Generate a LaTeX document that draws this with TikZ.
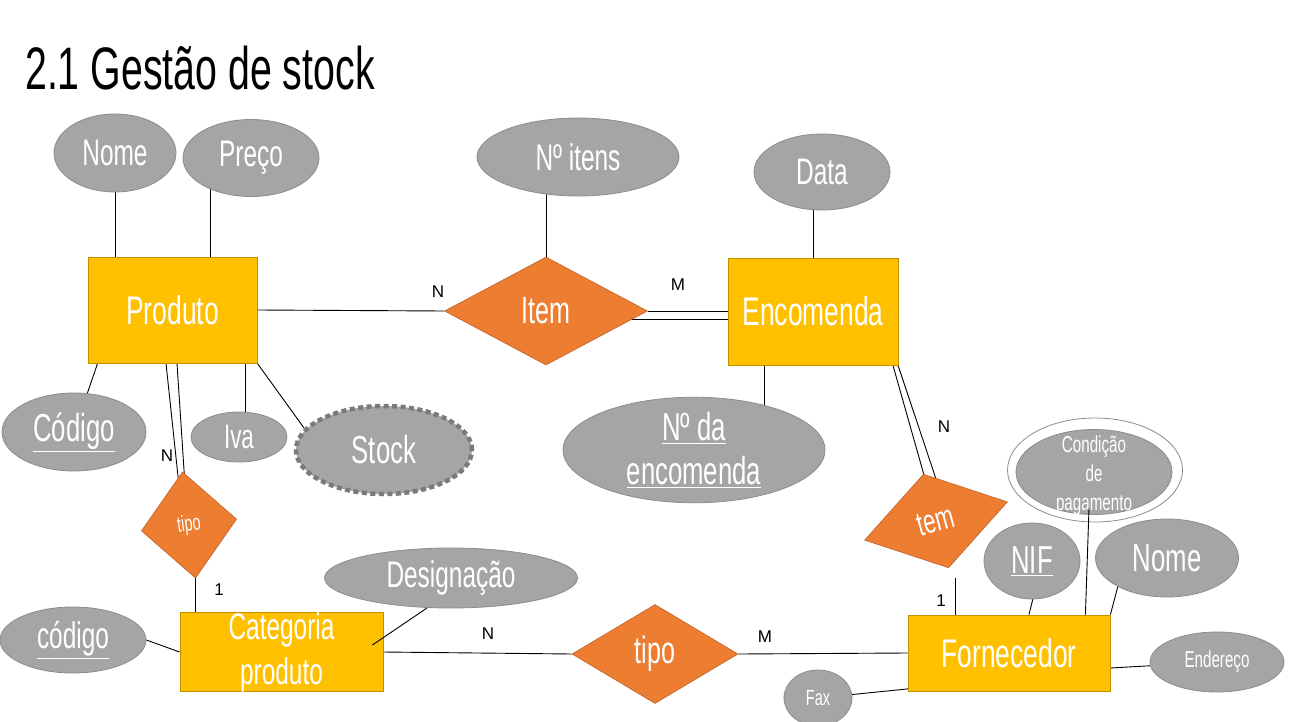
\documentclass[tikz,border=0pt]{standalone}
\usepackage{fontspec}
\usetikzlibrary{shapes.geometric,calc,backgrounds}
\newfontfamily\ag{Liberation Sans}[FakeStretch=0.66]
\newfontfamily\agt{Liberation Sans}[FakeStretch=0.655]
\newfontfamily\ar{Liberation Sans}
\newcommand\agfs[2]{\fontsize{#1}{#2}\selectfont}
\definecolor{ent}{HTML}{FFC000}
\definecolor{entb}{HTML}{C09000}
\definecolor{relc}{HTML}{ED7D31}
\definecolor{relb}{HTML}{C0622A}
\definecolor{att}{HTML}{A5A5A5}
\definecolor{attb}{HTML}{8C8C8C}
\definecolor{stk}{HTML}{7A7A7A}
\tikzset{
 entity/.style={rectangle, fill=ent, draw=entb, line width=0.8pt, inner sep=0pt, text=white},
 relship/.style={diamond, fill=relc, draw=relb, line width=0.6pt, inner sep=0pt, text=white},
 attr/.style={ellipse, fill=att, draw=attb, line width=0.8pt, inner sep=0pt, text=white},
 lbl/.style={font=\ar\agfs{17}{20}, inner sep=0pt, text=black},
 conn/.style={line width=0.9pt, draw=black},
}
\begin{document}
\begin{tikzpicture}[x=1pt,y=-1pt]
\useasboundingbox (0,0) rectangle (1292,722);
\begin{pgfonlayer}{background}
\fill[white] (0,0) rectangle (1292,722);
\end{pgfonlayer}

% title
\node[anchor=base west, inner sep=0pt, font=\agt\agfs{60}{60}] (title) at (25,90) {2.1 Gestão de stock};

% entities
\node[entity, minimum width=169pt, minimum height=106pt, font=\ag\agfs{40}{44}] (prod) at (172.5,310) {Produto};
\node[entity, minimum width=170pt, minimum height=107pt, font=\ag\agfs{40}{44}] (enc) at (813,311.5) {Encomenda};
\node[entity, minimum width=203pt, minimum height=76pt, align=center, font=\ag\agfs{37}{45}] (cat) at (281.5,652) {Categoria\\produto};
\node[entity, minimum width=202pt, minimum height=76pt, font=\ag\agfs{40}{44}] (forn) at (1009,653) {Fornecedor};

% relationships
\node[relship, minimum width=203pt, minimum height=108pt, font=\ag\agfs{38}{40}] (item) at (546,311) {Item};
\node[relship, minimum width=166pt, minimum height=99pt, font=\ag\agfs{38}{40}] (tipo2) at (655,654) {tipo};
\node[relship, minimum width=96pt, minimum height=107pt, rotate=7, font=\ag\agfs{22}{24}] (tipo1) at (189,525) {tipo};
\node[relship, minimum width=148pt, minimum height=97pt, rotate=15, font=\ag\agfs{34}{34}] (tem) at (936,521) {tem};

% attributes
\node[attr, minimum width=122pt, minimum height=78pt, font=\ag\agfs{37}{40}] (nome1) at (115,153) {Nome};
\node[attr, minimum width=136pt, minimum height=77pt, font=\ag\agfs{37}{40}] (preco) at (251,158) {Preço};
\node[attr, minimum width=202pt, minimum height=78pt, font=\ag\agfs{37}{40}] (nitens) at (578,157) {Nº itens};
\node[attr, minimum width=136pt, minimum height=76pt, font=\ag\agfs{37}{40}] (data) at (822,172) {Data};
\node[attr, minimum width=144pt, minimum height=78pt, font=\ag\agfs{39}{40}] (codigo) at (74,432) {\underline{Código}};
\node[attr, minimum width=96pt, minimum height=50pt, font=\ag\agfs{34}{36}] (iva) at (239,437) {Iva};
\node[attr, minimum width=176pt, minimum height=88pt, draw=stk, line width=4.5pt, dash pattern=on 5pt off 3.5pt, font=\ag\agfs{39}{40}] (stock) at (384,450) {Stock};
\node[attr, minimum width=262pt, minimum height=96pt, align=center, font=\ag\agfs{39}{44}] (nenc) at (694,450) {\underline{Nº da}\\\underline{encomenda}};
\node[ellipse, minimum width=175pt, minimum height=104pt, fill=white, draw=attb, line width=0.8pt, inner sep=0pt] (condo) at (1095,470) {};
\node[attr, minimum width=156pt, minimum height=85pt, align=center, font=\ag\agfs{23}{29}] (cond) at (1094,472) {};
\node[align=center, inner sep=0pt, text=white, font=\ag\agfs{23}{29}] (condt) at (1094,476) {Condição\\de\\pagamento};
\node[attr, minimum width=96pt, minimum height=76pt, font=\ag\agfs{39}{40}] (nif) at (1032,561) {\underline{NIF}};
\node[attr, minimum width=143pt, minimum height=78pt, font=\ag\agfs{39}{40}] (nome2) at (1167,558) {Nome};
\node[attr, minimum width=134pt, minimum height=60pt, font=\ag\agfs{23}{26}] (ender) at (1217,662) {Endereço};
\node[attr, minimum width=68pt, minimum height=56pt, font=\ag\agfs{22}{24}] (fax) at (818,698) {Fax};
\node[attr, minimum width=253pt, minimum height=60pt, font=\ag\agfs{37}{40}] (desig) at (451,578) {Designação};
\node[attr, minimum width=146pt, minimum height=66pt, font=\ag\agfs{37}{40}] (codigo2) at (73,640) {\underline{código}};

% coordinates for off-centre attachments
\coordinate (pa) at ($(preco.center)+(-41,0)$);
\coordinate (i2) at ($(item.center)+(0,8)$);
\coordinate (e1) at ($(enc.south)+(-49,0)$);
\coordinate (cs) at ($(prod.south west)+(10,0)$);
\coordinate (iv) at ($(prod.south east)+(-12,0)$);
\coordinate (st1) at ($(stock.center)+(-80,-22)$);
\coordinate (p1a) at ($(prod.south)+(-6.5,0)$);
\coordinate (p1b) at ($(tipo1.center)+(-9,-30)$);
\coordinate (p2a) at ($(prod.south)+(4.5,0)$);
\coordinate (p2b) at ($(tipo1.center)+(-4,-40)$);
\coordinate (d1) at ($(cat.east)+(-11,-7)$);
\coordinate (d2) at ($(desig.center)+(-24,30)$);
\coordinate (t1a) at ($(enc.south east)+(-6,-2)$);
\coordinate (t1b) at ($(tem.north)+(2,6)$);
\coordinate (t2a) at ($(enc.south east)+(-1,-2)$);
\coordinate (t2b) at ($(tem.center)+(4,-30)$);
\coordinate (tm) at ($(tem.center)+(19,57)$);
\coordinate (cd) at ($(cond.center)+(-5,36)$);
\coordinate (cf) at ($(forn.north east)+(-25,0)$);
\coordinate (nm) at ($(nome2.center)+(-48,24)$);
\coordinate (f1) at ($(forn.east)+(0,15)$);
\coordinate (f2) at ($(forn.south west)+(5,-3)$);
\coordinate (nf) at ($(nif.south)+(1,-1)$);
\coordinate (nf2) at ($(forn.north)+(20,0)$);

\begin{pgfonlayer}{background}
\draw[conn] (nome1.south) -- (nome1.south |- prod.north);
\draw[conn] (pa) -- (pa |- prod.north);
\draw[conn] (prod.east) -- (item.west);
\draw[conn] (item.east) -- (item.east -| enc.west);
\draw[conn] (i2) -- (i2 -| enc.west);
\draw[conn] (item.north) -- (item.north |- nitens.center);
\draw[conn] (enc.north) -- (enc.north |- data.center);
\draw[conn] (e1) -- (e1 |- nenc.center);
\draw[conn] (cs) -- (codigo.center);
\draw[conn] (iv) -- (iv |- iva.center);
\draw[conn] (prod.south east) -- (st1);
\draw[conn] (p1a) -- (p1b);
\draw[conn] (p2a) -- (p2b);
\draw[conn] (tipo1.south) -- (tipo1.south |- cat.north);
\draw[conn] (codigo2.east) -- (cat.west);
\draw[conn] (cat.east) -- (tipo2.west);
\draw[conn] (tipo2.east) -- (forn.west);
\draw[conn] (t1a) -- (t1b);
\draw[conn] (t2a) -- (t2b);
\draw[conn] (tm) -- (tm |- forn.north);
\draw[conn] (nf) -- (nf2);
\draw[conn] (forn.north east) -- (nm);
\draw[conn] (f1) -- (ender.center);
\draw[conn] (fax.center) -- (f2);
\end{pgfonlayer}
\draw[conn] (d1) -- (d2);
\draw[conn] (cd) -- (cf);

% cardinality labels
\node[lbl] (l1) at (438,292) {N};
\node[lbl] (l2) at (678,285) {M};
\node[lbl] (l3) at (167,456) {N};
\node[lbl] (l4) at (219,590) {1};
\node[lbl] (l5) at (488,634) {N};
\node[lbl] (l6) at (765,637) {M};
\node[lbl] (l7) at (944,427) {N};
\node[lbl] (l8) at (941,601) {1};
\end{tikzpicture}
\end{document}
